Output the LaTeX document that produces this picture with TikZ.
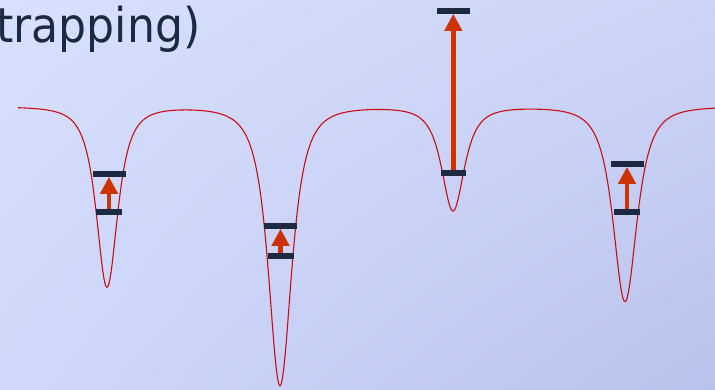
\documentclass[tikz,border=0pt]{standalone}
\usepackage{fontspec}
\newfontfamily\titlefont[FakeStretch=0.92]{DejaVu Sans}
\usetikzlibrary{arrows.meta, positioning, shadings}
\definecolor{navy}{RGB}{27,42,65}
\definecolor{wellred}{RGB}{200,12,20}
\definecolor{hopred}{RGB}{204,51,0}
\definecolor{bgul}{RGB}{216,224,254}
\definecolor{bgur}{RGB}{204,212,247}
\definecolor{bgll}{RGB}{208,216,251}
\definecolor{bglr}{RGB}{185,194,236}
\tikzset{
  level/.style = {rectangle, fill=navy, inner sep=0pt,
                  minimum height=6pt},
  hop/.style   = {-{Triangle[length=17pt,width=17pt]},
                  line width=4.8pt, hopred},
  potential/.style = {wellred, line width=1.1pt},
}

\begin{document}
\begin{tikzpicture}[
  x=1pt, y=-1pt,
  declare function={
    lor(\x,\c,\w)=1/(1+((\x-\c)/\w)*((\x-\c)/\w));
    well(\x,\c,\d,\w)=\d*lor(\x,\c,\w)*sqrt(lor(\x,\c,\w));
  },
]
  \shade[upper left=bgul, upper right=bgur,
         lower left=bgll, lower right=bglr]
    (0,0) rectangle (715,390);
  \useasboundingbox (0,0) rectangle (715,390);

  \node[anchor=base west, inner sep=0pt, text=navy,
        font=\titlefont\fontsize{48}{56}\selectfont] (title) at (-4,43) {trapping)};

  % four wells
  \draw[potential] plot[domain=18:715, samples=698]
    (\x, {106.5 + well(\x,107,180.5,16.5) + well(\x,280,279,18)
                + well(\x,453,104,17.5) + well(\x,625,195,18.5)});

  \node[level, minimum width=26pt] (l1) at (109,212) {};
  \node[level, minimum width=33pt, above=32pt of l1] (u1) {};
  \node[level, minimum width=26pt] (l2) at (280.5,256) {};
  \node[level, minimum width=33pt, above=24pt of l2] (u2) {};
  \node[level, minimum width=25pt] (l3) at (453.3,173) {};
  \node[level, minimum width=33pt, above=156pt of l3] (u3) {};
  \node[level, minimum width=26pt] (l4) at (627,212) {};
  \node[level, minimum width=33pt, above=42pt of l4] (u4) {};

  \draw[hop] (l1.north) -- (u1.south);
  \draw[hop] (l2.north) -- (u2.south);
  \draw[hop] (l3.north) -- (u3.south);
  \draw[hop] (l4.north) -- (u4.south);
\end{tikzpicture}
\end{document}
